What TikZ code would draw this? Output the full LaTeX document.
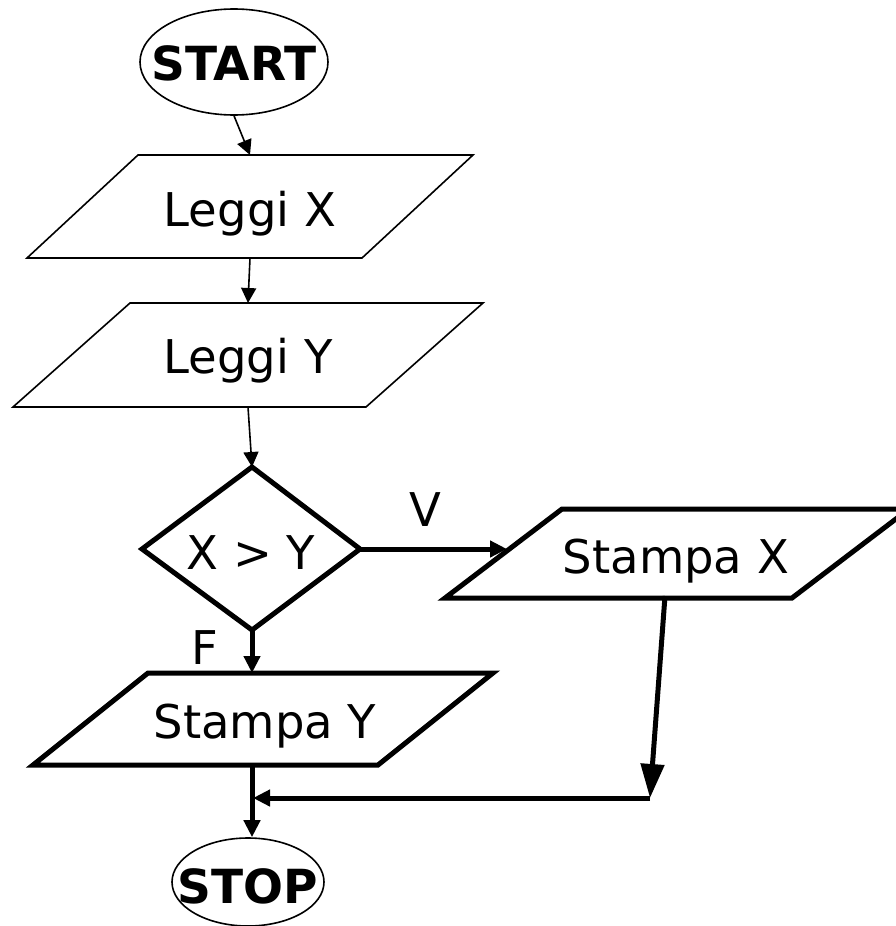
\documentclass[tikz,border=0pt]{standalone}
\usepackage{fontspec}
\setmainfont{DejaVu Sans}
\usetikzlibrary{arrows.meta,shapes.geometric}
\begin{document}
\begin{tikzpicture}[x=1pt,y=-1pt,
  thinline/.style={line width=1.6pt},
  thickline/.style={line width=5pt},
  txt/.style={font=\fontsize{46.5}{50}\selectfont, inner sep=0pt, anchor=base},
  txtb/.style={font=\fontsize{47}{50}\selectfont\bfseries, inner sep=0pt, anchor=base},
  thinarrow/.style={thinline, -{Triangle[length=15pt,width=15pt]}},
  thickarrow/.style={thickline, -{Triangle[length=17pt,width=16pt]}},
  bigarrow/.style={thickline, -{Triangle[length=34pt,width=23pt]}},
  terminal/.style={draw, ellipse, thinline, inner sep=0pt}
]
\path[use as bounding box, fill=white] (0,0) rectangle (895,926);

% START
\node[terminal, minimum width=188pt, minimum height=106pt] (start) at (234,62) {};
\node[txtb] (starttxt) at (234,80) {START};

% Leggi X
\draw[thinline] (138,155) -- (473,155) -- (362,258) -- (27,258) -- cycle;
\coordinate (lxT) at (250,155);
\coordinate (lxB) at (250,258);
\node[txt] (lx) at (250,226) {Leggi X};

% Leggi Y
\draw[thinline] (130,303) -- (483,303) -- (366,407) -- (13,407) -- cycle;
\coordinate (lyT) at (248,303);
\coordinate (lyB) at (248,407);
\node[txt] (ly) at (248,373) {Leggi Y};

% decision
\coordinate (dT) at (252,467);
\coordinate (dR) at (360,549);
\coordinate (dB) at (252,630);
\coordinate (dL) at (142,549);
\draw[thickline] (dT) -- (dR) -- (dB) -- (dL) -- cycle;
\node[txt] (cond) at (251,569) {X > Y};

% Stampa X
\draw[thickline] (562,509) -- (909,509) -- (792,598) -- (445,598) -- cycle;
\coordinate (sxL) at (507,549);
\coordinate (sxB) at (665,596);
\node[txt] (sx) at (676,573) {Stampa X};

% Stampa Y
\draw[thickline] (148,673) -- (493,673) -- (378,765) -- (33,765) -- cycle;
\coordinate (syT) at (252,673);
\coordinate (syB) at (252,765);
\node[txt] (sy) at (265,738) {Stampa Y};

% STOP
\node[terminal, minimum width=152pt, minimum height=88pt] (stop) at (248,882) {};
\node[txtb] (stoptxt) at (248,903) {STOP};

% labels
\node[txt] (vlab) at (425,526) {V};
\node[txt] (flab) at (205,664) {F};

% connectors
\coordinate (corner) at (650,798);
\coordinate (join) at (253,798);
\draw[thinarrow] (start.south) -- (lxT);
\draw[thinarrow] (lxB) -- (lyT);
\draw[thinarrow] (lyB) -- (dT);
\draw[thickarrow] (dR) -- (sxL);
\draw[thickarrow] (dB) -- (syT);
\draw[bigarrow] (sxB) -- (corner);
\draw[thickarrow] (corner) -- (join);
\draw[thickarrow] (syB) -- (syB |- stop.north);
\end{tikzpicture}
\end{document}
